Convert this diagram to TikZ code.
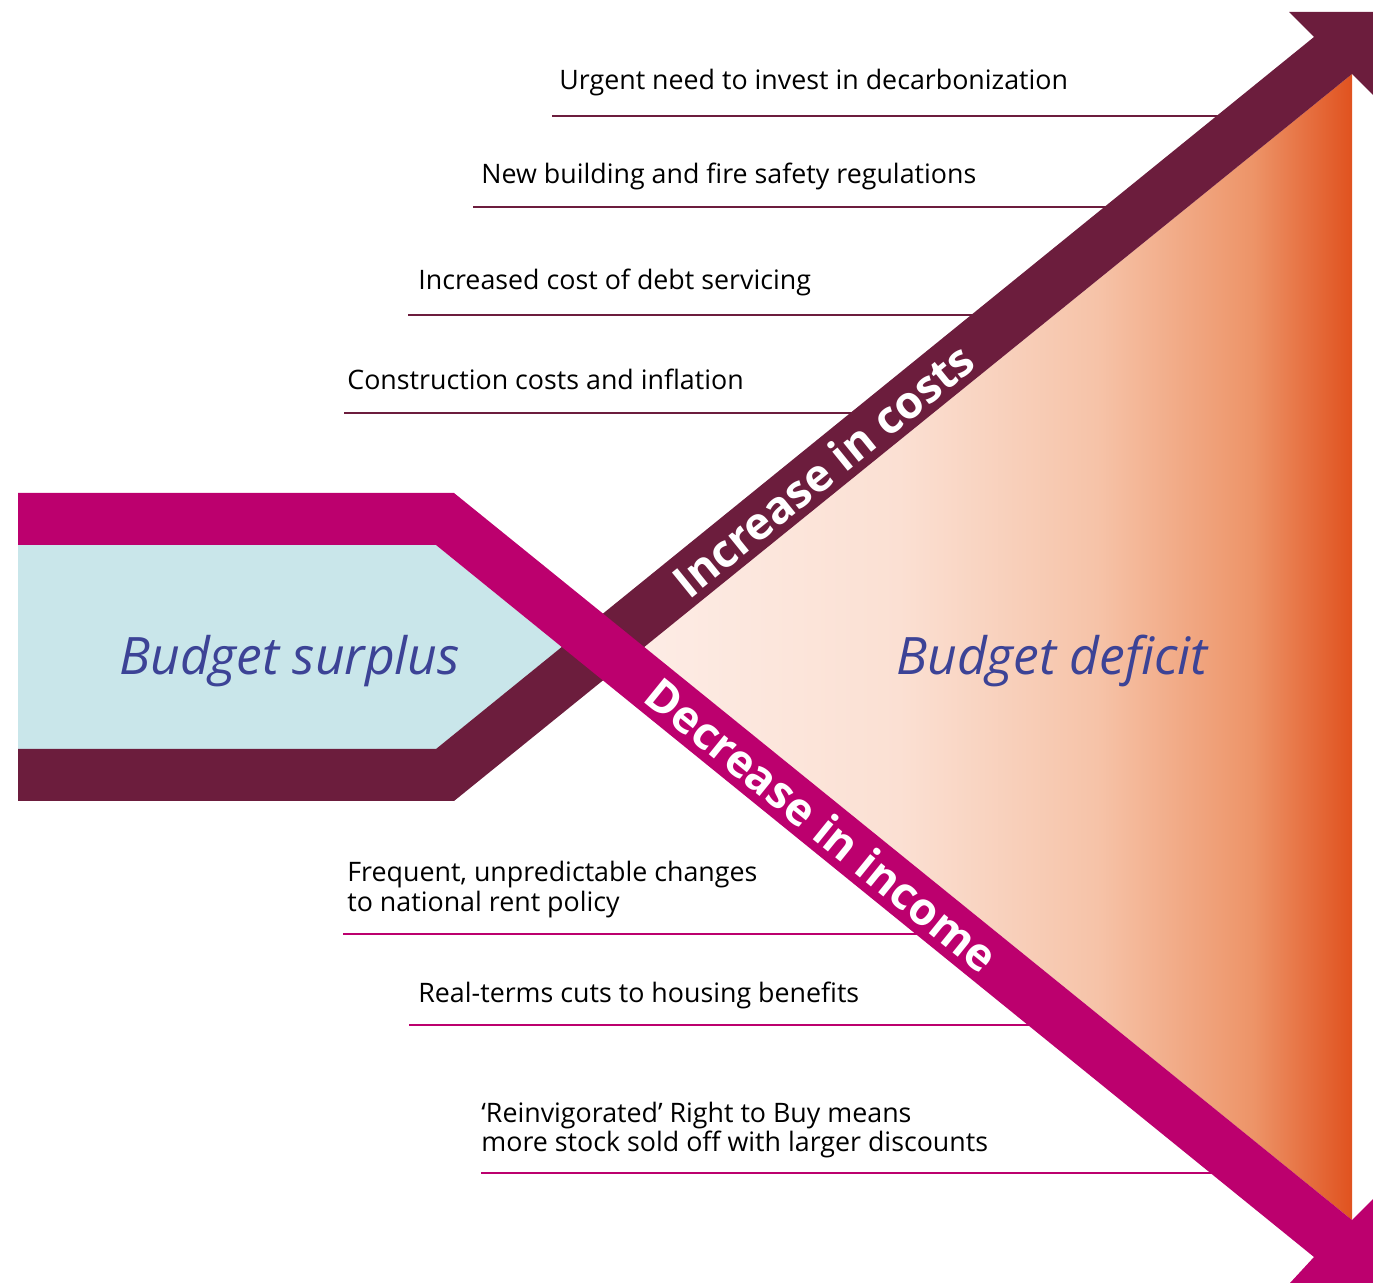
\documentclass[tikz,border=0pt]{standalone}
\usepackage{fontspec}
\setmainfont{Open Sans}
\usetikzlibrary{calc}

\definecolor{costs}{HTML}{6C1D3D}
\definecolor{income}{HTML}{BC006E}
\definecolor{surplus}{HTML}{C9E6EA}
\definecolor{budgetblue}{HTML}{3C4396}
\definecolor{deficitA}{HTML}{FDECE5}
\definecolor{deficitB}{HTML}{FBE0D3}
\definecolor{deficitC}{HTML}{F6C3A8}
\definecolor{deficitD}{HTML}{ED9468}
\definecolor{deficitE}{HTML}{E0521F}
\pgfdeclarehorizontalshading{deficit}{100bp}{color(0bp)=(deficitA); color(25bp)=(deficitA); color(43bp)=(deficitB); color(57bp)=(deficitC); color(68bp)=(deficitD); color(75bp)=(deficitE); color(100bp)=(deficitE)}

\begin{document}
\begin{tikzpicture}[x=0.5pt,y=-0.5pt,
    factor/.style={anchor=base west,inner sep=0pt,align=left,font=\fontsize{13.4}{15}\selectfont},
    costline/.style={draw=costs,line width=1pt},
    incomeline/.style={draw=income,line width=1pt},
    budget/.style={anchor=base west,inner sep=0pt,text=budgetblue,font=\fontsize{25.8}{30}\selectfont\itshape},
    bandtext/.style={inner sep=0pt,text=white,font=\fontsize{22.5}{25}\selectfont\bfseries}]
  \useasboundingbox (0,0) rectangle (1373,1283);
  \path
    coordinate (sTop) at (18,545)
    coordinate (sTopIn) at (436,545)
    coordinate (sTip) at (562,647)
    coordinate (sBotIn) at (436,749)
    coordinate (sBot) at (18,749)
    coordinate (dApex) at (644,647)
    coordinate (dTop) at (1352,74)
    coordinate (dBot) at (1352,1220);
  % surplus and deficit areas
  \fill[surplus] (sTop) -- (sTopIn) -- (sTip) -- (sBotIn) -- (sBot) -- cycle;
  \shade[shading=deficit] (dApex) -- (dTop) -- (dBot) -- cycle;
  % factors
  \node[factor] (decarb) at (559,90) {Urgent need to invest in decarbonization};
  \node[factor] (safety) at (481,184) {New building and fire safety regulations};
  \node[factor] (debt) at (418,290) {Increased cost of debt servicing};
  \node[factor] (inflation) at (347,390) {Construction costs and inflation};
  \node[factor] (rent) at (347,912) {Frequent, unpredictable changes\\to national rent policy};
  \node[factor] (benefits) at (418,1002) {Real-terms cuts to housing benefits};
  \node[factor] (rtb) at (481,1152) {‘Reinvigorated’ Right to Buy means\\more stock sold off with larger discounts};
  \draw[costline] (552,116) -- (1225,116);
  \draw[costline] (473,207) -- (1113,207);
  \draw[costline] (408,315) -- (980,315);
  \draw[costline] (344,413) -- (859,413);
  \draw[incomeline] (343,934) -- (924,934);
  \draw[incomeline] (409,1025) -- (1037,1025);
  \draw[incomeline] (481,1173) -- (1219,1173);
  % bands
  \fill[costs] (18,801) -- (454,801) -- (dTop) -- (1373,95) -- (1373,12) -- (1289,12)
    -- (1314,37) -- (sBotIn) -- (sBot) -- cycle;
  \fill[income] (18,493) -- (454,493) -- (dBot) -- (1373,1199) -- (1373,1283) -- (1290,1283)
    -- (1314,1257) -- (sTopIn) -- (sTop) -- cycle;
  \node[bandtext,rotate=39] (costs) at (823,470) {Increase in costs};
  \node[bandtext,rotate=-39] (income) at (822,825) {Decrease in income};
  \node[budget] (surplus) at (119,675) {Budget surplus};
  \node[budget] (deficit) at (896,675) {Budget deficit};
\end{tikzpicture}
\end{document}
